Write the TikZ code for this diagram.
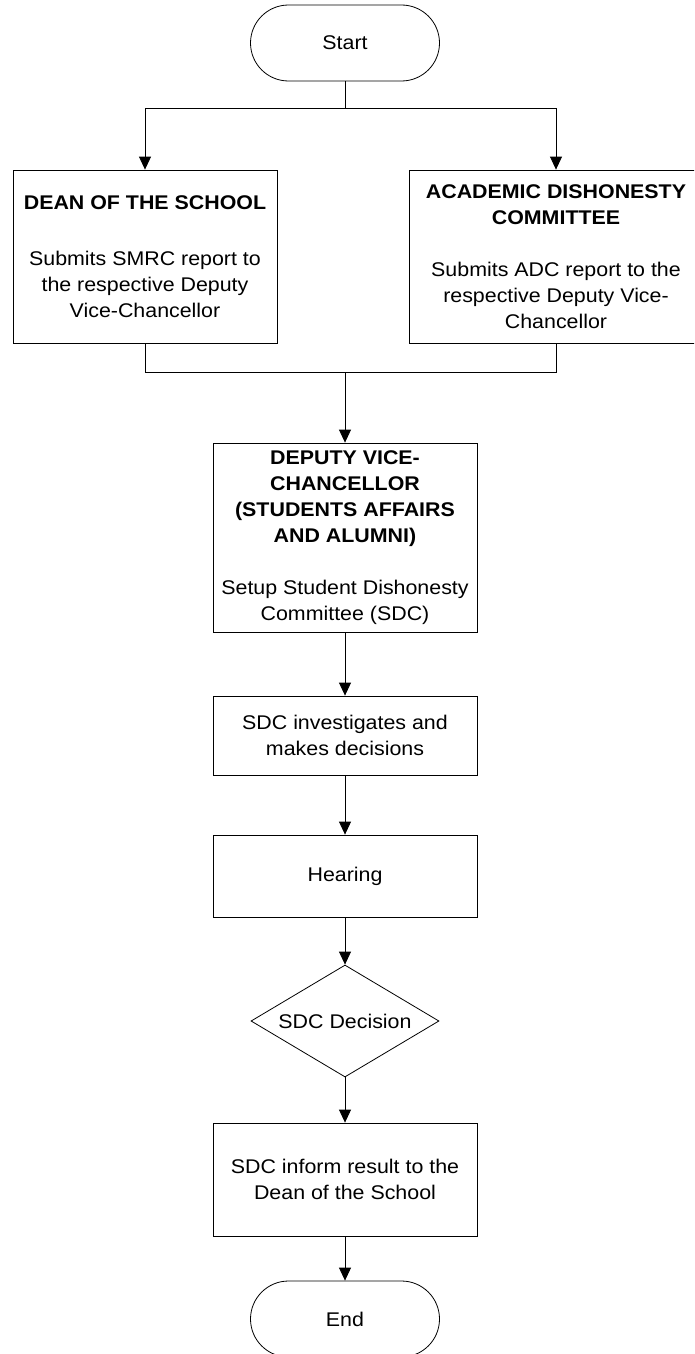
\documentclass[tikz,border=0pt]{standalone}
\usepackage{fontspec}
\setmainfont{Liberation Sans}[FakeStretch=1.08]
\usetikzlibrary{arrows.meta,shapes.geometric}
\tikzset{
  box/.style={draw,rectangle,minimum width=264pt,align=center,inner sep=0pt,font=\fontsize{19.8}{26}\selectfont},
  term/.style={draw,rectangle,rounded corners=38pt,minimum width=189pt,minimum height=76pt,font=\fontsize{19.8}{26}\selectfont},
  dec/.style={draw,diamond,aspect=1.68,minimum width=188pt,minimum height=112pt,inner sep=0pt,font=\fontsize{19.8}{26}\selectfont},
  arr/.style={-{Triangle[length=13pt,width=12pt]}}
}
\begin{document}
\begin{tikzpicture}[x=1pt,y=-1pt,line width=0.8pt]
\clip(0,0)rectangle(694,1354);
%start and branches
\node[term](start)at(345,43){Start};
\node[box,minimum height=173pt](dean)at(145,256.5){\textbf{DEAN OF THE SCHOOL}\\[30pt]Submits SMRC report to\\the respective Deputy\\Vice-Chancellor};
\node[box,minimum width=294pt,minimum height=173pt](adc)at(556,256.5){\textbf{ACADEMIC DISHONESTY}\\\textbf{COMMITTEE}\\[26pt]Submits ADC report to the\\respective Deputy Vice-\\Chancellor};
\coordinate(split)at(345,108);
\coordinate(merge)at(345,372);
\draw(start)--(split);
\draw[arr](split)-|(dean);
\draw[arr](split)-|(adc);
\draw(dean)|-(merge);
\draw(adc)|-(merge);
%main column
\node[box,minimum height=189pt](dvc)at(345,537.5){\textbf{DEPUTY VICE-}\\\textbf{CHANCELLOR}\\\textbf{(STUDENTS AFFAIRS}\\\textbf{AND ALUMNI)}\\[26pt]Setup Student Dishonesty\\Committee (SDC)};
\node[box,minimum height=79pt](inv)at(345,735.5){SDC investigates and\\makes decisions};
\node[box,minimum height=82pt](hear)at(345,876){Hearing};
\node[dec](decide)at(345,1021){SDC Decision};
\node[box,minimum height=113pt](inform)at(345,1179.5){SDC inform result to the\\Dean of the School};
\node[term](end)at(345,1319){End};
\draw[arr](merge)--(dvc);
\draw[arr](dvc)--(inv);
\draw[arr](inv)--(hear);
\draw[arr](hear)--(decide);
\draw[arr](decide)--(inform);
\draw[arr](inform)--(end);
\end{tikzpicture}
\end{document}
